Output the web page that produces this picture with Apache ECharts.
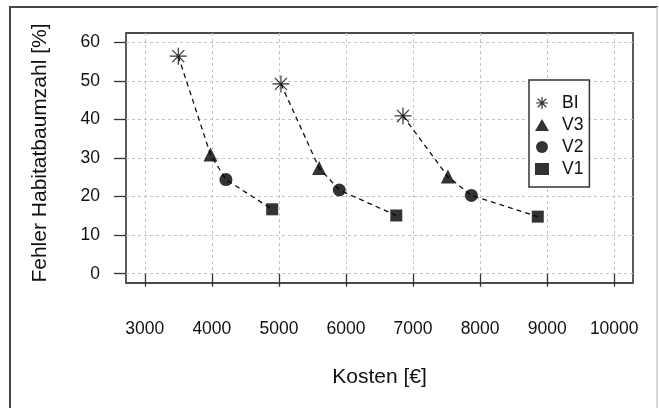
<!DOCTYPE html>
<html>
<head>
<meta charset="utf-8">
<script src="https://cdn.jsdelivr.net/npm/echarts@6/dist/echarts.min.js"></script>
<style>
html,body{margin:0;padding:0;background:#fff;}
#c{width:659px;height:408px;}
</style>
</head>
<body>
<div id="c"></div>
<script>
// Data
const seriesNames = ['BI', 'V3', 'V2', 'V1'];
const costBI = [3500, 5030, 6850];
const errBI  = [56.4, 49.2, 40.9];
const costV3 = [3980, 5600, 7520];
const errV3  = [30.9, 27.4, 25.2];
const costV2 = [4210, 5900, 7870];
const errV2  = [24.4, 21.7, 20.3];
const costV1 = [4900, 6750, 8860];
const errV1  = [16.7, 15.1, 14.8];
const xTicks = [3000, 4000, 5000, 6000, 7000, 8000, 9000, 10000];
const yTicks = [0, 10, 20, 30, 40, 50, 60];

const FONT = '"Liberation Sans", Arial, Helvetica, sans-serif';
const INK = '#111';

const pts = (xs, ys) => xs.map((x, i) => [x, ys[i]]);
const costs = [costBI, costV3, costV2, costV1];
const errs = [errBI, errV3, errV2, errV1];

const lineSeries = costBI.map((_, g) => ({
  type: 'line',
  name: 'grp' + g,
  data: costs.map((c, k) => [c[g], errs[k][g]]),
  showSymbol: false,
  symbol: 'none',
  lineStyle: { color: '#111', width: 1.3, type: [5, 4] },
  z: 2,
  silent: true
}));

const asterisk = 'path://M0,-10L0,10M-10,0L10,0M-7.07,-7.07L7.07,7.07M-7.07,7.07L7.07,-7.07';
const markerDefs = [
  { symbol: asterisk, size: 17, stroke: true },
  { symbol: 'triangle', size: 14 },
  { symbol: 'circle', size: 13 },
  { symbol: 'rect', size: 12 }
];
const styleFor = k => markerDefs[k].stroke
  ? { color: '#000', borderColor: '#000', borderWidth: 1.2 }
  : { color: '#000', borderWidth: 0 };

const scatterSeries = seriesNames.map((n, k) => ({
  type: 'scatter',
  name: n,
  data: pts(costs[k], errs[k]),
  symbol: markerDefs[k].symbol,
  symbolSize: markerDefs[k].size,
  itemStyle: styleFor(k),
  z: 3
}));

const chart = echarts.init(document.getElementById('c'), null, { renderer: 'canvas' });
chart.setOption({
  animation: false,
  backgroundColor: '#fff',
  textStyle: { fontFamily: FONT },
  grid: {
    left: 126, top: 33, right: 26, bottom: 125,
    show: true, borderColor: '#4a4a4a', borderWidth: 1.8, backgroundColor: 'transparent'
  },
  xAxis: {
    type: 'value', min: 2720, max: 10280,
    name: 'Kosten [€]', nameLocation: 'middle', nameGap: 84,
    nameTextStyle: { fontSize: 21, color: INK, fontFamily: FONT },
    axisLine: { show: false },
    axisTick: { show: true, customValues: xTicks, length: 13, inside: false, lineStyle: { color: '#333', width: 1.3 } },
    axisLabel: { customValues: xTicks, margin: 37, fontSize: 17.5, color: INK, fontFamily: FONT, formatter: v => String(v) },
    splitLine: { show: true, lineStyle: { color: '#c4c4c4', width: 1, type: [3, 3] } }
  },
  yAxis: {
    type: 'value', min: -2.4, max: 62.4,
    name: 'Fehler Habitatbaumzahl [%]', nameLocation: 'middle', nameGap: 75,
    nameTextStyle: { fontSize: 21, color: INK, fontFamily: FONT, padding: [0, 0, 0, 10] },
    axisLine: { show: false },
    axisTick: { show: true, customValues: yTicks, length: 12, inside: false, lineStyle: { color: '#333', width: 1.3 } },
    axisLabel: { customValues: yTicks, margin: 26, fontSize: 17.5, color: INK, fontFamily: FONT, formatter: v => String(v) },
    splitLine: { show: true, lineStyle: { color: '#c4c4c4', width: 1, type: [3, 3] } }
  },
  legend: {
    left: 529, top: 80, orient: 'vertical',
    padding: [14, 6, 9, 6],
    itemGap: 4,
    itemWidth: 14, itemHeight: 12,
    backgroundColor: '#fff',
    borderColor: '#333', borderWidth: 1.5, borderRadius: 0,
    textStyle: { fontSize: 17.5, color: INK, fontFamily: FONT, padding: [0, 0, 0, 8] },
    data: seriesNames.map((n, k) => ({ name: n, itemStyle: styleFor(k) }))
  },
  graphic: [
    { type: 'polyline', shape: { points: [[10, 408], [10, 7], [658, 7]] }, style: { stroke: '#444', lineWidth: 2, fill: null }, silent: true },
    { type: 'line', shape: { x1: 657, y1: 7, x2: 657, y2: 408 }, style: { stroke: '#ccc', lineWidth: 1.5 }, silent: true }
  ],
  series: [...lineSeries, ...scatterSeries]
});
</script>
</body>
</html>
